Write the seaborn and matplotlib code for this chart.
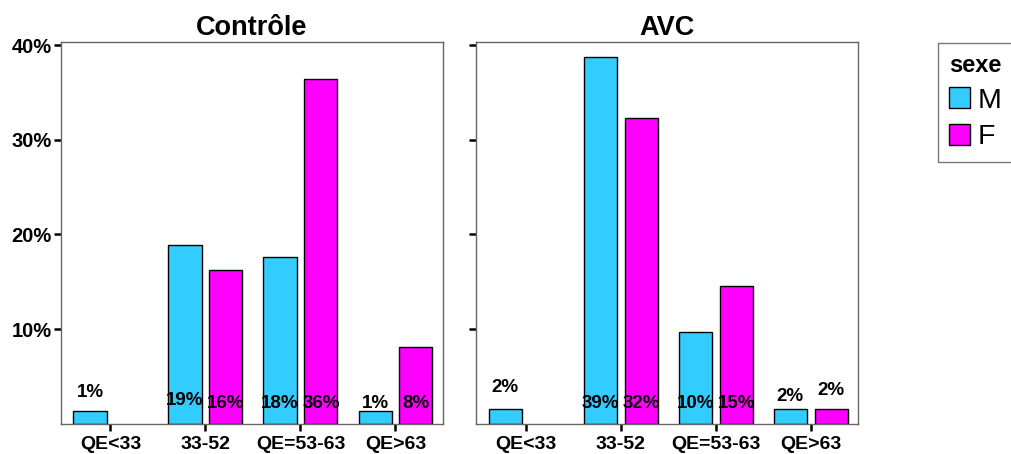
import pandas as pd
import seaborn as sns
import matplotlib.pyplot as plt
from matplotlib.ticker import FuncFormatter

# categories / groups
categories = ['QE<33', '33-52', 'QE=53-63', 'QE>63']
sexes = ['M', 'F']
groups = ['Contrôle', 'AVC']

# percentages per group (None = no bar)
controle_M = [1.35, 18.9, 17.6, 1.35]
controle_F = [None, 16.2, 36.4, 8.1]
avc_M = [1.6, 38.7, 9.7, 1.6]
avc_F = [None, 32.3, 14.5, 1.6]

# y position of the printed labels (in %), like the original
label_y = {
    ('Contrôle', 'M'): [3.3, 2.5, 2.1, 2.1],
    ('Contrôle', 'F'): [None, 2.1, 2.1, 2.1],
    ('AVC', 'M'): [3.85, 2.1, 2.1, 2.9],
    ('AVC', 'F'): [None, 2.1, 2.1, 3.55],
}

values = {
    ('Contrôle', 'M'): controle_M,
    ('Contrôle', 'F'): controle_F,
    ('AVC', 'M'): avc_M,
    ('AVC', 'F'): avc_F,
}

rows = []
for (g, s), vals in values.items():
    for c, v in zip(categories, vals):
        if v is not None:
            rows.append({'groupe': g, 'sexe': s, 'qe': c, 'pct': v})
df = pd.DataFrame(rows)

palette = {'M': '#33CCFF', 'F': '#FF00FF'}

sns.set_style('white')
plt.rcParams['font.family'] = ['Liberation Sans', 'DejaVu Sans']
plt.rcParams['text.color'] = 'black'
plt.rcParams['xtick.color'] = 'black'
plt.rcParams['ytick.color'] = 'black'

fig = plt.figure(figsize=(10.11, 4.54), dpi=100)
W, H = 1011, 454
ax1 = fig.add_axes([61 / W, 30.3 / H, 382 / W, 381.4 / H])
ax2 = fig.add_axes([476.3 / W, 30.3 / H, 382 / W, 381.4 / H])

bar_w = 0.86
gap = 0.19
for ax, g in zip([ax1, ax2], groups):
    sub = df[df['groupe'] == g]
    sns.barplot(data=sub, x='qe', y='pct', hue='sexe', order=categories,
                hue_order=sexes, palette=palette, saturation=1,
                edgecolor='black', linewidth=1, width=bar_w, gap=gap,
                errorbar=None, legend=(ax is ax1), ax=ax)
    # bar labels
    for j, s in enumerate(sexes):
        off = (j - 0.5) * bar_w / 2
        for i, c in enumerate(categories):
            v = values[(g, s)][i]
            if v is None:
                continue
            ax.text(i + off, label_y[(g, s)][i], f'{int(v + 0.5)}%',
                    ha='center', va='center', fontsize=13.5,
                    fontweight='bold', color='black')
    ax.set_xlim(-0.52, 3.5)
    ax.set_ylim(0, 40.3)
    ax.set_yticks([10, 20, 30, 40])
    ax.set_xlabel('')
    ax.set_ylabel('')
    ax.set_title(g, fontsize=19.5, fontweight='bold', pad=5, color='black')
    for sp in ax.spines.values():
        sp.set_color('#666666')
        sp.set_linewidth(1)
    ax.tick_params(axis='both', which='major', direction='out', length=5,
                   width=1.8, color='black', labelsize=14.5,
                   bottom=True, left=True, labelcolor='black')
    ax.tick_params(axis='x', pad=3.5, labelsize=14)
    ax.tick_params(axis='y', pad=1.5)
    for lab in ax.get_xticklabels() + ax.get_yticklabels():
        lab.set_fontweight('bold')

ax1.yaxis.set_major_formatter(FuncFormatter(lambda v, p: f'{v:.0f}%'))
for lab in ax1.get_yticklabels():
    lab.set_fontweight('bold')
ax2.set_yticklabels([])

handles, labels = ax1.get_legend_handles_labels()
ax1.get_legend().remove()
leg = fig.legend(handles, labels, title='sexe', loc='upper left',
                 bbox_to_anchor=(937.7 / W, (H - 42.7) / H),
                 fontsize=20.5, title_fontproperties={'weight': 'bold', 'size': 17},
                 frameon=True, fancybox=False, handlelength=0.74,
                 handleheight=0.74, handletextpad=0.25, labelspacing=0.36,
                 borderpad=0.4, borderaxespad=0, alignment='left')
leg.get_frame().set_edgecolor('#555555')
leg.get_frame().set_linewidth(1)
leg.get_title().set_color('black')

fig.savefig('out.png', dpi=100)
